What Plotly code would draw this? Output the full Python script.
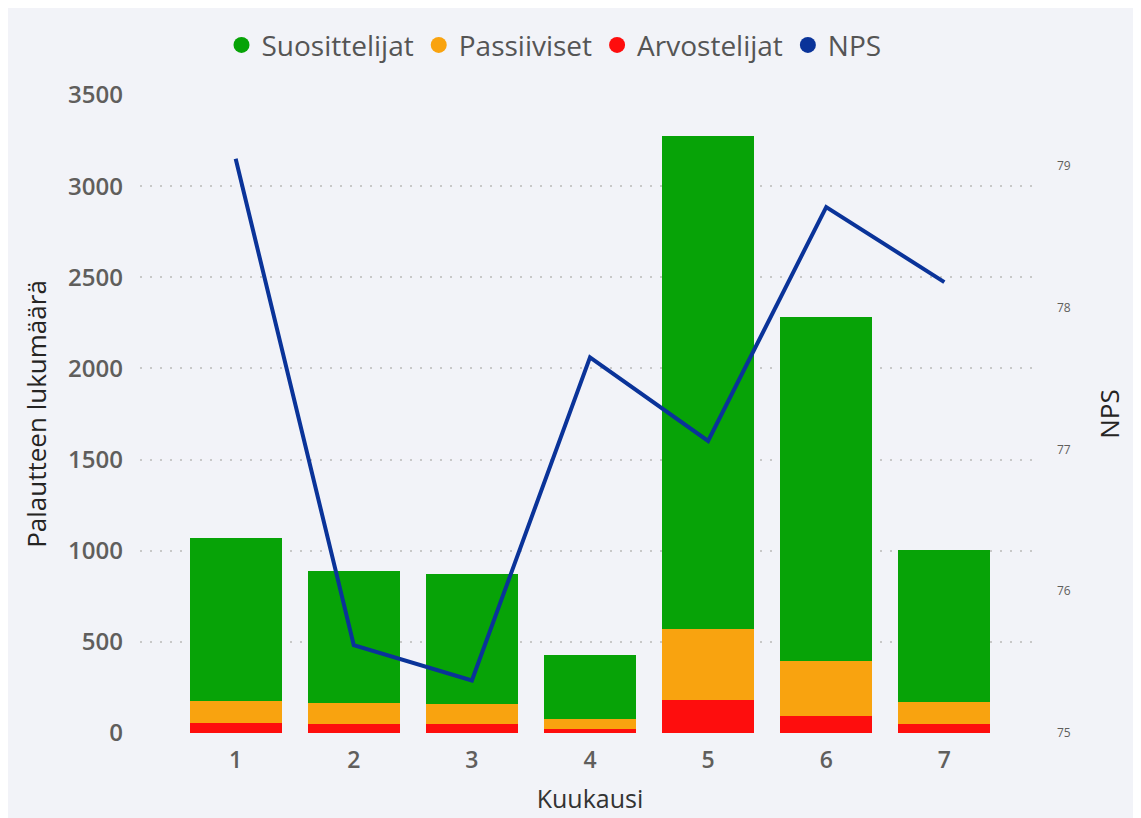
import plotly.graph_objects as go

# kuukaudet ja palautteet
kuukaudet = [1, 2, 3, 4, 5, 6, 7]
arvostelijat = [55, 50, 50, 22, 180, 93, 49]
passiiviset = [120, 114, 109, 55, 389, 301, 121]
suosittelijat = [897, 727, 716, 349, 2706, 1886, 836]
nps = [79.05, 75.62, 75.37, 77.65, 77.06, 78.71, 78.18]

vihrea = "#07a307"
oranssi = "#f9a30f"
punainen = "#fe0d0d"
sininen = "#0a3399"
fontti = "Open Sans, Noto Sans, sans-serif"

fig = go.Figure()
fig.add_trace(go.Bar(x=kuukaudet, y=arvostelijat, name="Arvostelijat",
                     marker=dict(color=punainen, line=dict(width=0)), showlegend=False))
fig.add_trace(go.Bar(x=kuukaudet, y=passiiviset, name="Passiiviset",
                     marker=dict(color=oranssi, line=dict(width=0)), showlegend=False))
fig.add_trace(go.Bar(x=kuukaudet, y=suosittelijat, name="Suosittelijat",
                     marker=dict(color=vihrea, line=dict(width=0)), showlegend=False))
fig.add_trace(go.Scatter(x=kuukaudet, y=nps, name="NPS", yaxis="y2", mode="lines",
                         line=dict(color=sininen, width=4), showlegend=False))

# selitteen pallot
for nimi, vari in [("Suosittelijat", vihrea), ("Passiiviset", oranssi),
                   ("Arvostelijat", punainen), ("NPS", sininen)]:
    fig.add_trace(go.Scatter(x=[None], y=[None], name=nimi, mode="markers",
                             marker=dict(color=vari, size=18, symbol="circle")))

fig.update_layout(
    width=1141, height=818,
    barmode="stack", bargap=0.22,
    paper_bgcolor="#f2f3f8", plot_bgcolor="#f2f3f8",
    margin=dict(l=132, r=109, t=85, b=93),
    font=dict(family=fontti, color="#605e5c"),
    legend=dict(orientation="h", x=0.46, xanchor="center", y=1.078, yanchor="middle",
                font=dict(size=28, color="#555555"), itemwidth=30, tracegroupgap=0,
                traceorder="normal", bgcolor="rgba(0,0,0,0)"),
    xaxis=dict(range=[0.19, 7.81], tickmode="array", tickvals=kuukaudet,
               tickfont=dict(size=23, color="#605e5c", weight=600), showgrid=False, zeroline=False,
               ticklabelstandoff=11,
               title=dict(text="Kuukausi", font=dict(size=25, color="#333333"), standoff=16)),
    yaxis=dict(range=[0, 3500], dtick=500, tickfont=dict(size=24, color="#605e5c", weight=600),
               showgrid=True, gridcolor="#c8c8c8", griddash="2px,8px", gridwidth=1.5,
               zeroline=False, ticklabelstandoff=16,
               title=dict(text="Palautteen lukumäärä", font=dict(size=26, color="#252423"), standoff=14)),
    yaxis2=dict(range=[75, 79.5], dtick=1, overlaying="y", side="right",
                tickfont=dict(size=12, color="#605e5c"), showgrid=False, zeroline=False,
                ticklabelstandoff=16,
                title=dict(text="NPS", font=dict(size=26, color="#252423"), standoff=30)),
)

fig.write_html("out.html")
